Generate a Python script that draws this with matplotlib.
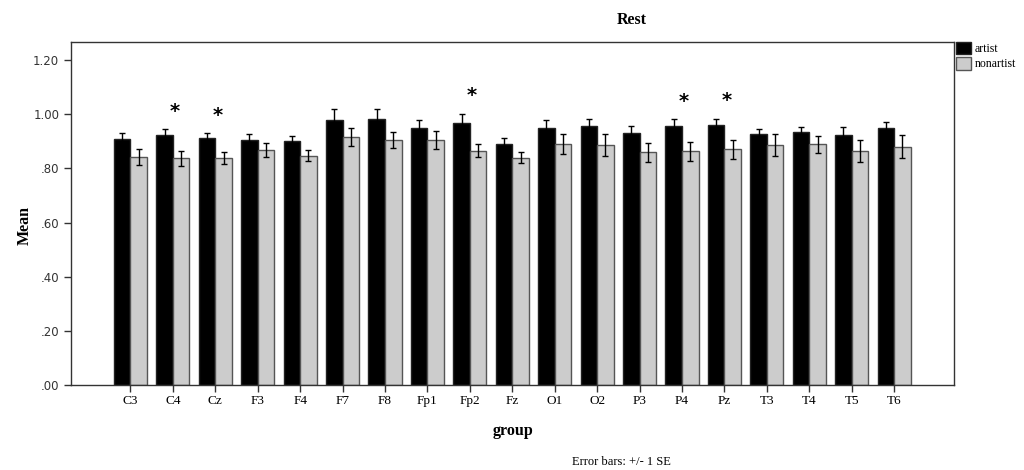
import matplotlib
matplotlib.use("Agg")
import matplotlib.pyplot as plt
import numpy as np

groups = ["C3", "C4", "Cz", "F3", "F4", "F7", "F8", "Fp1", "Fp2", "Fz",
          "O1", "O2", "P3", "P4", "Pz", "T3", "T4", "T5", "T6"]
artist_mean = [0.907, 0.924, 0.911, 0.905, 0.900, 0.979, 0.981, 0.949, 0.969, 0.890,
               0.949, 0.955, 0.932, 0.958, 0.960, 0.926, 0.933, 0.923, 0.949]
artist_se = [0.025, 0.020, 0.020, 0.022, 0.018, 0.040, 0.037, 0.028, 0.033, 0.023,
             0.028, 0.028, 0.025, 0.024, 0.023, 0.021, 0.019, 0.029, 0.021]
nonartist_mean = [0.841, 0.837, 0.839, 0.868, 0.846, 0.917, 0.905, 0.905, 0.865, 0.839,
                  0.891, 0.886, 0.860, 0.863, 0.870, 0.885, 0.889, 0.864, 0.880]
nonartist_se = [0.029, 0.028, 0.023, 0.025, 0.020, 0.033, 0.028, 0.033, 0.024, 0.021,
                0.037, 0.040, 0.035, 0.036, 0.034, 0.041, 0.032, 0.041, 0.043]
significant = ["C4", "Cz", "Fp2", "P4", "Pz"]
yticks = [0.0, 0.2, 0.4, 0.6, 0.8, 1.0, 1.2]
ytick_labels = [".00", ".20", ".40", ".60", ".80", "1.00", "1.20"]

serif = "Liberation Serif"

fig = plt.figure(figsize=(10.24, 4.70), dpi=100)
ax = fig.add_axes([71/1024, 1-385/470, (954-71)/1024, (385-42.3)/470])

x = np.arange(len(groups))
w = 0.39
ekw = dict(ecolor="black", elinewidth=1.0, capsize=2.2, capthick=1.0)
ax.bar(x - w/2, artist_mean, w, yerr=artist_se, color="black",
       edgecolor="#222222", linewidth=1.0, error_kw=ekw, label="artist")
ax.bar(x + w/2, nonartist_mean, w, yerr=nonartist_se, color="#cccccc",
       edgecolor="#555555", linewidth=1.0, error_kw=ekw, label="nonartist")

for g in significant:
    i = groups.index(g)
    ax.text(i + 0.05, artist_mean[i] + artist_se[i] + 0.066, "*",
            ha="center", va="center", fontsize=14, color="black",
            fontweight="bold", family="DejaVu Sans")

ax.set_xlim(-1.4, len(groups) - 1 + 1.41)
ax.set_ylim(0, 1.2655)
ax.set_xticks(x)
ax.set_xticklabels(groups, family=serif, fontsize=9.5)
ax.set_yticks(yticks)
ax.set_yticklabels(ytick_labels, family="DejaVu Sans", fontsize=8.5, color="#333333")
ax.tick_params(axis="both", direction="out", length=5, width=1, color="#333333")
ax.tick_params(axis="x", pad=2)
for s in ax.spines.values():
    s.set_color("#333333")
    s.set_linewidth(1.0)

fig.text(632/1024, 1-20/470, "Rest", ha="center", va="center",
         family=serif, fontsize=11.5, fontweight="bold")
fig.text(25/1024, 1-225/470, "Mean", ha="center", va="center", rotation=90,
         family=serif, fontsize=11.5, fontweight="bold")
fig.text(513/1024, 1-431/470, "group", ha="center", va="center",
         family=serif, fontsize=11.5, fontweight="bold")
fig.text(572/1024, 1-462/470, "Error bars: +/- 1 SE", ha="left", va="center",
         family=serif, fontsize=9)

handles, labels = ax.get_legend_handles_labels()
leg = fig.legend(handles, labels, loc="upper left",
                 bbox_to_anchor=(956/1024, 1-41.5/470),
                 frameon=False, borderpad=0, borderaxespad=0,
                 handlelength=1.25, handleheight=1.25, handletextpad=0.3,
                 labelspacing=0.2, prop={"family": serif, "size": 8.5})

fig.savefig("out.png", dpi=100)
